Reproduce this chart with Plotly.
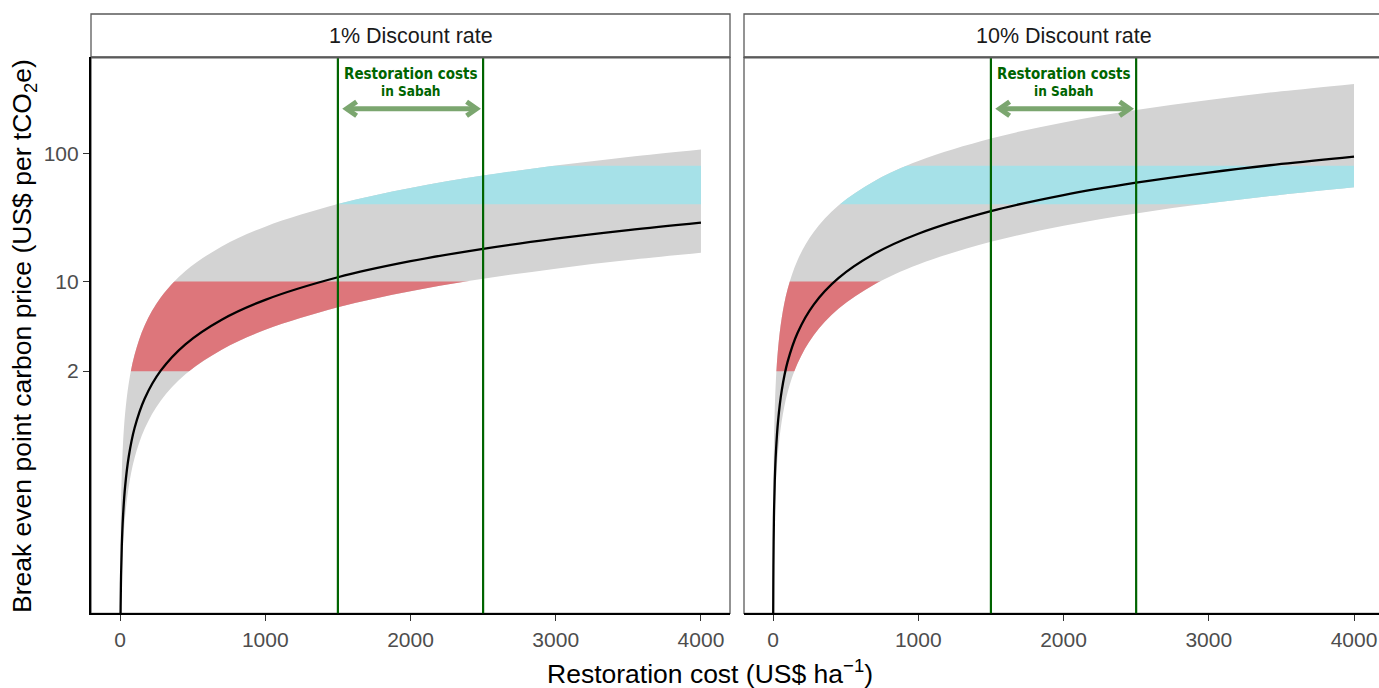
import numpy as np
import plotly.graph_objects as go

# ---------------- data ----------------
X_COST = [1, 2, 4, 7, 12, 20, 35, 60, 100, 170, 280, 450, 700, 1000,
          1500, 2000, 2500, 3000, 3500, 4000]

LEFT_LOW = [0.0042, 0.0084, 0.0168, 0.0294, 0.0504, 0.084, 0.147, 0.252, 0.42, 0.714,
            1.176, 1.89, 2.94, 4.2, 6.3, 8.4, 10.5, 12.6, 14.7, 16.8]
LEFT_MID = [0.0072, 0.0144, 0.0288, 0.0504, 0.0864, 0.144, 0.252, 0.432, 0.72, 1.224,
            2.016, 3.24, 5.04, 7.2, 10.8, 14.4, 18.0, 21.6, 25.2, 28.8]
LEFT_HIGH = [0.0268, 0.0536, 0.107, 0.188, 0.322, 0.536, 0.938, 1.61, 2.68, 4.56,
             7.50, 12.06, 18.76, 26.8, 40.2, 53.6, 67.0, 80.4, 93.8, 107.2]

RIGHT_LOW = [0.0136, 0.0272, 0.0544, 0.0952, 0.163, 0.272, 0.476, 0.816, 1.36, 2.31,
             3.81, 6.12, 9.52, 13.6, 20.4, 27.2, 34.0, 40.8, 47.6, 54.4]
RIGHT_MID = [0.0236, 0.0472, 0.0944, 0.165, 0.283, 0.472, 0.826, 1.416, 2.36, 4.01,
             6.61, 10.62, 16.52, 23.6, 35.4, 47.2, 59.0, 70.8, 82.6, 94.4]
RIGHT_HIGH = [0.087, 0.174, 0.348, 0.609, 1.044, 1.74, 3.045, 5.22, 8.7, 14.79,
              24.36, 39.15, 60.9, 87.0, 130.5, 174.0, 217.5, 261.0, 304.5, 348.0]

PANEL_TITLES = ["1% Discount rate", "10% Discount rate"]
SABAH_COSTS = [1500, 2500]          # vertical lines
ARROW_SPAN = [1560, 2455]           # double arrow extent
RED_BAND = [2, 10]                  # carbon price band (red)
CYAN_BAND = [40, 80]                # carbon price band (cyan)
Y_TICKS = [2, 10, 100]
Y_TICK_TEXT = ["2", "10", "100"]
X_TICKS = [0, 1000, 2000, 3000, 4000]
X_TICK_TEXT = ["0", "1000", "2000", "3000", "4000"]

PANELS = [
    dict(title=PANEL_TITLES[0], low=LEFT_LOW, mid=LEFT_MID, high=LEFT_HIGH),
    dict(title=PANEL_TITLES[1], low=RIGHT_LOW, mid=RIGHT_MID, high=RIGHT_HIGH),
]

# ---------------- styling / layout ----------------
W, H = 1379, 688
def PX(p): return p / W
def PY(p): return 1 - p / H

GREY = "#D3D3D3"
RED = "#DD767B"
CYAN = "#A6E1E8"
GREEN = "#006400"
ARROW_GREEN = "#7BA66F"
BORDER = "#5A5A5A"
FONT = "Liberation Sans, Arial, Helvetica, sans-serif"
NARROW = "Liberation Sans Narrow, Arial Narrow, DejaVu Sans Condensed, sans-serif"

Y_MIN, Y_MAX = -1.588, 2.749          # log10 range
Y_DOM = [PY(613.3), PY(57.3)]
X_DOMS = [[PX(91), PX(730)], [PX(744), 1.0]]
X_RANGES = [[-200, 4200], [-200, 4172]]
STRIP_TOP = PY(14)

def ydom(v):
    f = (np.log10(v) - Y_MIN) / (Y_MAX - Y_MIN)
    return Y_DOM[0] + f * (Y_DOM[1] - Y_DOM[0])

fig = go.Figure()
layout = dict(width=W, height=H, margin=dict(l=0, r=0, t=0, b=0),
              paper_bgcolor="white", plot_bgcolor="rgba(0,0,0,0)",
              showlegend=False, font=dict(family=FONT))
shapes, annotations = [], []

for p, panel in enumerate(PANELS):
    base = 4 * p + 1
    xd, xr = X_DOMS[p], X_RANGES[p]
    # layers: base(grey band), red clip, cyan clip, top(curve)
    ydoms = [Y_DOM, [ydom(RED_BAND[0]), ydom(RED_BAND[1])],
             [ydom(CYAN_BAND[0]), ydom(CYAN_BAND[1])], Y_DOM]
    yranges = [[Y_MIN, Y_MAX], [np.log10(RED_BAND[0]), np.log10(RED_BAND[1])],
               [np.log10(CYAN_BAND[0]), np.log10(CYAN_BAND[1])], [Y_MIN, Y_MAX]]
    for k in range(4):
        n = base + k
        xa = dict(domain=xd, range=xr, anchor=f"y{n}", showgrid=False, zeroline=False)
        ya = dict(domain=ydoms[k], range=yranges[k], type="log", anchor=f"x{n}",
                  showgrid=False, zeroline=False)
        if k == 0:
            xa.update(showline=True, linecolor="black", linewidth=2.2,
                      ticks="outside", ticklen=6, tickwidth=1.4, tickcolor="#333333",
                      tickvals=X_TICKS, ticktext=X_TICK_TEXT,
                      tickfont=dict(size=21, color="#4D4D4D", family=FONT))
            if p == 0:
                ya.update(showline=True, linecolor="black", linewidth=2.2,
                          ticks="outside", ticklen=6, tickwidth=1.4, tickcolor="#333333",
                          tickvals=Y_TICKS, ticktext=Y_TICK_TEXT,
                          tickfont=dict(size=21, color="#4D4D4D", family=FONT))
            else:
                ya.update(showticklabels=False, ticks="")
        else:
            xa.update(visible=False)
            ya.update(visible=False)
        sx = "" if n == 1 else str(n)
        layout["xaxis" + sx] = xa
        layout["yaxis" + sx] = ya

    for k, col in [(0, GREY), (1, RED), (2, CYAN)]:
        n = base + k
        fig.add_trace(go.Scatter(x=X_COST, y=panel["low"], mode="lines",
                                 line=dict(width=0, shape="spline", color=col),
                                 hoverinfo="skip", xaxis=f"x{n}", yaxis=f"y{n}"))
        fig.add_trace(go.Scatter(x=X_COST, y=panel["high"], mode="lines", fill="tonexty",
                                 fillcolor=col, line=dict(width=0, shape="spline", color=col),
                                 hoverinfo="skip", xaxis=f"x{n}", yaxis=f"y{n}"))
    n = base + 3
    fig.add_trace(go.Scatter(x=X_COST, y=panel["mid"], mode="lines",
                             line=dict(color="black", width=2.3, shape="spline"),
                             xaxis=f"x{n}", yaxis=f"y{n}"))

    xref = "x" if base == 1 else f"x{base}"
    # vertical restoration-cost lines
    for c in SABAH_COSTS:
        shapes.append(dict(type="line", xref=xref, yref="paper", x0=c, x1=c,
                           y0=Y_DOM[0], y1=Y_DOM[1], layer="above",
                           line=dict(color=GREEN, width=2.2)))
    # double arrow
    ya_ = PY(108.7)
    dx = 10 / (639 / 4400)
    dy = 7 / H
    shapes.append(dict(type="line", xref=xref, yref="paper",
                       x0=ARROW_SPAN[0] + 3, x1=ARROW_SPAN[1] - 3, y0=ya_, y1=ya_,
                       layer="above", line=dict(color=ARROW_GREEN, width=5)))
    shapes.append(dict(type="path", xref=xref, yref="paper", layer="above",
                       path=f"M {ARROW_SPAN[0]+dx},{ya_+dy} L {ARROW_SPAN[0]},{ya_} L {ARROW_SPAN[0]+dx},{ya_-dy}",
                       line=dict(color=ARROW_GREEN, width=5)))
    shapes.append(dict(type="path", xref=xref, yref="paper", layer="above",
                       path=f"M {ARROW_SPAN[1]-dx},{ya_+dy} L {ARROW_SPAN[1]},{ya_} L {ARROW_SPAN[1]-dx},{ya_-dy}",
                       line=dict(color=ARROW_GREEN, width=5)))
    mid_cost = (SABAH_COSTS[0] + SABAH_COSTS[1]) / 2
    annotations.append(dict(x=mid_cost, y=PY(74), xref=xref, yref="paper",
                            text="<b>Restoration costs</b>", showarrow=False,
                            xanchor="center", yanchor="middle",
                            font=dict(family=NARROW, size=15, color=GREEN)))
    annotations.append(dict(x=mid_cost, y=PY(90.5), xref=xref, yref="paper",
                            text="<b>in Sabah</b>", showarrow=False,
                            xanchor="center", yanchor="middle",
                            font=dict(family=NARROW, size=13.5, color=GREEN)))

    # strip and panel border
    x1 = xd[1] if p == 0 else 1.01
    shapes.append(dict(type="rect", xref="paper", yref="paper", x0=xd[0], x1=x1,
                       y0=Y_DOM[1], y1=STRIP_TOP, fillcolor="white", layer="below",
                       line=dict(color=BORDER, width=1.3)))
    shapes.append(dict(type="rect", xref="paper", yref="paper", x0=xd[0], x1=x1,
                       y0=Y_DOM[0], y1=Y_DOM[1], layer="below",
                       line=dict(color=BORDER, width=1.3)))
    shapes.append(dict(type="line", xref="paper", yref="paper", x0=xd[0], x1=x1,
                       y0=Y_DOM[1], y1=Y_DOM[1], layer="above",
                       line=dict(color=BORDER, width=2.2)))
    annotations.append(dict(x=(xd[0] + xd[1]) / 2 if p == 0 else PX((744 + 1383) / 2),
                            y=(Y_DOM[1] + STRIP_TOP) / 2, xref="paper", yref="paper",
                            text=panel["title"], showarrow=False,
                            xanchor="center", yanchor="middle",
                            font=dict(family=FONT, size=21.5, color="#1A1A1A")))

# axis titles
annotations.append(dict(x=PX(24), y=PY(336), xref="paper", yref="paper",
                        text="Break even point carbon price (US$ per tCO<sub>2</sub>e)",
                        textangle=-90, showarrow=False, xanchor="center", yanchor="middle",
                        font=dict(family=FONT, size=26.5, color="black")))
annotations.append(dict(x=PX(710), y=PY(672), xref="paper", yref="paper",
                        text="Restoration cost (US$ ha<sup>\u22121</sup>)",
                        showarrow=False, xanchor="center", yanchor="middle",
                        font=dict(family=FONT, size=26.5, color="black")))

layout["shapes"] = shapes
layout["annotations"] = annotations
fig.update_layout(**layout)
fig.write_html("out.html", config={"displayModeBar": False},
               post_script="document.body.style.margin='0px';document.body.style.overflow='hidden';")
